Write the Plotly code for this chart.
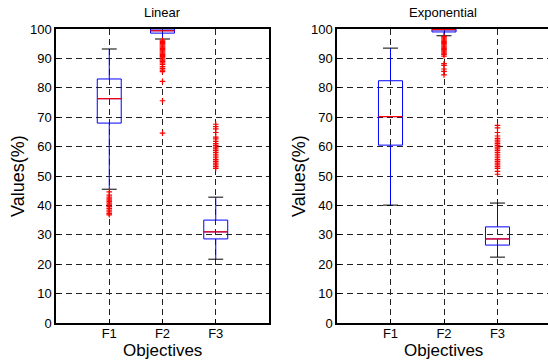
import plotly.graph_objects as go

# ---------------- data ----------------
categories = ["F1", "F2", "F3"]
positions = [1, 2, 3]

lin_lower = [45.5, 96.6, 21.7]
lin_q1 = [68.0, 98.6, 28.6]
lin_median = [76.3, 99.4, 31.0]
lin_q3 = [83.0, 100.0, 35.0]
lin_upper = [93.2, 100.0, 42.8]
lin_out_f1 = [44.6, 43.5, 42.8, 42.2, 41.8, 41.3, 40.8, 40.2, 39.6, 39.0, 38.4, 37.8, 37.2, 36.8]
lin_out_f2 = [96.2, 95.8, 95.4, 95.0, 94.6, 94.2, 93.8, 93.4, 93.0, 92.6, 92.2, 91.8, 91.4,
              91.0, 90.6, 90.2, 89.8, 89.4, 89.0, 88.5, 88.0, 87.2, 86.6, 86.0, 85.5, 82.2, 75.6, 64.6]
lin_out_f3 = [67.6, 66.8, 66.0, 64.8, 63.2, 62.6, 61.8, 61.0, 60.4, 59.8, 59.2, 58.6, 58.0, 57.4,
              56.8, 56.2, 55.6, 55.0, 54.4, 53.8, 53.2, 52.6]

exp_lower = [40.1, 97.7, 22.4]
exp_q1 = [60.5, 99.0, 26.5]
exp_median = [70.2, 99.8, 28.6]
exp_q3 = [82.4, 100.0, 32.7]
exp_upper = [93.5, 100.0, 40.8]
exp_out_f1 = []
exp_out_f2 = [97.4, 97.0, 96.6, 96.2, 95.8, 95.4, 95.0, 94.6, 94.2, 93.8, 93.4, 93.0, 92.6, 92.2,
              91.8, 91.4, 90.8, 88.2, 87.6, 86.4, 85.6, 84.4]
exp_out_f3 = [67.2, 66.4, 64.8, 63.6, 62.8, 62.2, 61.6, 61.0, 60.4, 59.8, 59.2, 58.6, 58.0, 57.4,
              56.8, 56.2, 55.6, 55.0, 54.4, 53.8, 53.2, 52.6, 51.6, 50.6]

y_ticks = [0, 10, 20, 30, 40, 50, 60, 70, 80, 90, 100]

panels = [
    dict(title="Linear", lower=lin_lower, q1=lin_q1, med=lin_median, q3=lin_q3, upper=lin_upper,
         outs=[lin_out_f1, lin_out_f2, lin_out_f3]),
    dict(title="Exponential", lower=exp_lower, q1=exp_q1, med=exp_median, q3=exp_q3, upper=exp_upper,
         outs=[exp_out_f1, exp_out_f2, exp_out_f3]),
]

# ---------------- layout geometry ----------------
W, H = 548, 360
ML, MR, MT, MB = 56, 0, 29, 37
PW, PH = W - ML - MR, H - MT - MB


def px(p):
    return (p - ML) / PW


def py(p):
    return (H - MB - p) / PH


BOX_W = 0.45
CAP_W = 0.28
FONT = "Liberation Sans, Arial, sans-serif"

fig = go.Figure()

for i, pn in enumerate(panels):
    xa = "x" if i == 0 else "x2"
    ya = "y" if i == 0 else "y2"
    fig.add_trace(go.Box(
        x=positions, q1=pn["q1"], median=pn["med"], q3=pn["q3"],
        lowerfence=pn["lower"], upperfence=pn["upper"],
        width=BOX_W, whiskerwidth=0, boxpoints=False,
        line=dict(color="#0000ff", width=1), fillcolor="rgba(0,0,0,0)",
        xaxis=xa, yaxis=ya, showlegend=False, hoverinfo="skip"))
    for j, xpos in enumerate(positions):
        fig.add_trace(go.Scatter(
            x=[xpos - BOX_W / 2, xpos + BOX_W / 2], y=[pn["med"][j]] * 2, mode="lines",
            line=dict(color="#ff0000", width=1.2), xaxis=xa, yaxis=ya, showlegend=False,
            hoverinfo="skip"))
        for v in (pn["lower"][j], pn["upper"][j]):
            if v == pn["q3"][j]:
                continue
            fig.add_trace(go.Scatter(
                x=[xpos - CAP_W / 2, xpos + CAP_W / 2], y=[v, v], mode="lines",
                line=dict(color="#000000", width=1), xaxis=xa, yaxis=ya, showlegend=False,
                hoverinfo="skip"))
        outs = pn["outs"][j]
        if outs:
            fig.add_trace(go.Scatter(
                x=[xpos] * len(outs), y=outs, mode="markers",
                marker=dict(symbol="cross-thin", size=4, color="#ff0000",
                            line=dict(color="#ff0000", width=1.2)),
                xaxis=xa, yaxis=ya, showlegend=False, hoverinfo="skip"))

common_x = dict(tickvals=positions, ticktext=categories, showgrid=True, gridcolor="#222222",
                griddash="6px,4px", gridwidth=1, zeroline=False, showline=True, linecolor="black",
                linewidth=1.5, ticks="inside", ticklen=4, tickcolor="black", ticklabelstandoff=-2,
                tickfont=dict(family=FONT, size=13, color="black"))
common_y = dict(range=[0, 100], tickvals=y_ticks, showgrid=True, gridcolor="#222222",
                griddash="6px,4px", gridwidth=1, zeroline=False, showline=True, linecolor="black",
                linewidth=1.5, ticks="inside", ticklen=4, tickcolor="black",
                tickfont=dict(family=FONT, size=13, color="black"))

x1_dom = [0, px(269)]
x2_dom = [px(337), 1.0]
fig.update_layout(
    width=W, height=H, margin=dict(l=ML, r=MR, t=MT, b=MB),
    paper_bgcolor="white", plot_bgcolor="white",
    xaxis=dict(domain=x1_dom, range=[0, 4], mirror=True, anchor="y", **common_x),
    yaxis=dict(domain=[0, 1], mirror=True, anchor="x", **common_y),
    xaxis2=dict(domain=x2_dom, range=[0, (548 - 337) / 53.5], mirror=True, anchor="y2", **common_x),
    yaxis2=dict(domain=[0, 1], mirror=False, anchor="x2", **common_y),
)

ann = []
for title, cx, ylab_x in (("Linear", 162.5, 18), ("Exponential", 443, 299)):
    ann.append(dict(text=title, x=px(cx), y=py(13), xref="paper", yref="paper",
                    showarrow=False, font=dict(family=FONT, size=13, color="black"),
                    xanchor="center", yanchor="middle"))
    ann.append(dict(text="Objectives", x=px(cx), y=py(350), xref="paper", yref="paper",
                    showarrow=False, font=dict(family=FONT, size=17, color="black"),
                    xanchor="center", yanchor="middle"))
    ann.append(dict(text="Values(%)", x=px(ylab_x), y=py(176), xref="paper", yref="paper",
                    showarrow=False, textangle=-90, font=dict(family=FONT, size=18, color="black"),
                    xanchor="center", yanchor="middle"))
fig.update_layout(annotations=ann)

fig.write_html("out.html")
